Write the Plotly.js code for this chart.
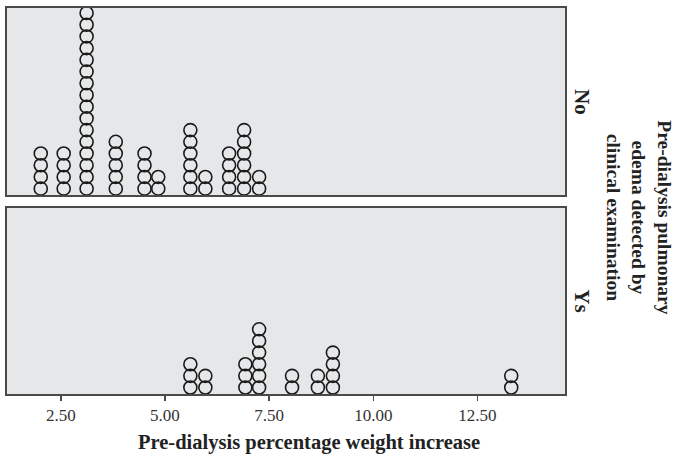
<!DOCTYPE html>
<html>
<head>
<meta charset="utf-8">
<script src="https://cdn.plot.ly/plotly-3.0.1.min.js"></script>
<style>html,body{margin:0;padding:0;background:#fff;}#chart{width:677px;height:461px;}</style>
</head>
<body>
<div id="chart"></div>
<script>
// Dot plot data: column positions (weight increase %) and number of stacked dots
const noX = [2.02, 2.57, 3.12, 3.82, 4.51, 4.84, 5.61, 5.97, 6.54, 6.90, 7.26];
const noN = [4, 4, 16, 5, 4, 2, 6, 2, 4, 6, 2];
const ysX = [5.61, 5.97, 6.93, 7.26, 8.05, 8.67, 9.03, 13.31];
const ysN = [3, 2, 3, 6, 2, 2, 4, 2];
const tickVals = [2.5, 5.0, 7.5, 10.0, 12.5];
const tickText = ["2.50", "5.00", "7.50", "10.00", "12.50"];
const groupLabels = ["No", "Ys"];

function expand(xs, ns) {
  const px = [], py = [];
  xs.forEach((x, i) => { for (let k = 1; k <= ns[i]; k++) { px.push(x); py.push(k); } });
  return {x: px, y: py};
}
const a = expand(noX, noN), b = expand(ysX, ysN);
const marker = {symbol: 'circle-open', size: 13, color: '#1a1a1a', line: {width: 1.6, color: '#1a1a1a'}};
const data = [
  {type: 'scatter', mode: 'markers', x: a.x, y: a.y, xaxis: 'x', yaxis: 'y', marker: marker, hoverinfo: 'skip'},
  {type: 'scatter', mode: 'markers', x: b.x, y: b.y, xaxis: 'x2', yaxis: 'y2', marker: marker, hoverinfo: 'skip'}
];
const serif = 'Liberation Serif, DejaVu Serif, serif';
const frame = {showline: true, linecolor: '#4a4a4a', linewidth: 1.6, mirror: true, showgrid: false, zeroline: false};
const layout = {
  width: 677, height: 461,
  margin: {l: 7, r: 112, t: 8, b: 67},
  paper_bgcolor: '#ffffff',
  plot_bgcolor: '#e6e7e9',
  showlegend: false,
  font: {family: serif, color: '#333'},
  xaxis: Object.assign({}, frame, {range: [1.21, 14.6], domain: [0, 1], anchor: 'y', showticklabels: false, ticks: '', tickvals: tickVals}),
  yaxis: Object.assign({}, frame, {range: [0.44, 16.43], domain: [0.515, 1], showticklabels: false, ticks: ''}),
  xaxis2: Object.assign({}, frame, {range: [1.21, 14.6], domain: [0, 1], anchor: 'y2', matches: 'x',
    tickvals: tickVals, ticktext: tickText, ticks: 'outside', ticklen: 5, tickwidth: 1.5, tickcolor: '#4a4a4a',
    tickfont: {family: serif, size: 17, color: '#333'}}),
  yaxis2: Object.assign({}, frame, {range: [0.44, 16.43], domain: [0, 0.482], showticklabels: false, ticks: ''}),
  annotations: [
    {xref: 'paper', yref: 'paper', x: 0.541, y: -0.126, text: '<b>Pre-dialysis percentage weight increase</b>', showarrow: false,
      font: {family: serif, size: 20.5, color: '#222'}, xanchor: 'center', yanchor: 'middle'},
    {xref: 'paper', yref: 'paper', x: 1.03, y: 0.757, text: '<b>' + groupLabels[0] + '</b>', showarrow: false, textangle: 90,
      font: {family: serif, size: 21, color: '#222'}, xanchor: 'center', yanchor: 'middle'},
    {xref: 'paper', yref: 'paper', x: 1.03, y: 0.241, text: '<b>' + groupLabels[1] + '</b>', showarrow: false, textangle: 90,
      font: {family: serif, size: 21, color: '#222'}, xanchor: 'center', yanchor: 'middle'},
    {xref: 'paper', yref: 'paper', x: 1.132, y: 0.4585,
      text: '<b>Pre-dialysis pulmonary<br>edema detected by<br>clinical examination</b>', showarrow: false, textangle: 90,
      font: {family: serif, size: 19.5, color: '#222'}, xanchor: 'center', yanchor: 'middle', align: 'center'}
  ]
};
Plotly.newPlot('chart', data, layout, {staticPlot: true, displayModeBar: false});
</script>
</body>
</html>
